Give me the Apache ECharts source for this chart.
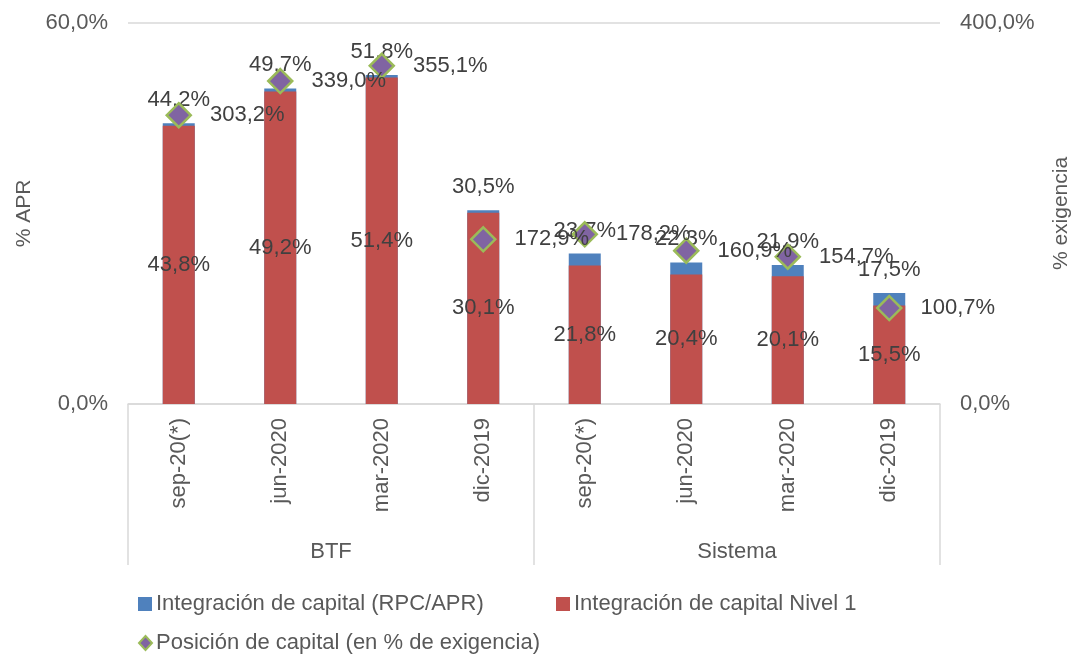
<!DOCTYPE html>
<html>
<head>
<meta charset="utf-8">
<script src="https://cdn.jsdelivr.net/npm/echarts@6/dist/echarts.min.js"></script>
<style>
  html, body { margin: 0; padding: 0; background: #fff; }
  #chart { width: 1075px; height: 654px; }
</style>
</head>
<body>
<div id="chart"></div>
<script>
  // datos
  var categories = ['sep-20(*)', 'jun-2020', 'mar-2020', 'dic-2019', 'sep-20(*)', 'jun-2020', 'mar-2020', 'dic-2019'];
  var groups = ['BTF', 'Sistema'];
  var rpcApr = [44.2, 49.7, 51.8, 30.5, 23.7, 22.3, 21.9, 17.5];
  var nivel1 = [43.8, 49.2, 51.4, 30.1, 21.8, 20.4, 20.1, 15.5];
  var posicion = [303.2, 339.0, 355.1, 172.9, 178.2, 160.9, 154.7, 100.7];

  var FONT = 'Liberation Sans, Arial, sans-serif';
  var GRID_COLOR = '#d9d9d9';

  function pct(v) {
    return v.toFixed(1).replace('.', ',') + '%';
  }

  var chart = echarts.init(document.getElementById('chart'));

  chart.setOption({
    animation: false,
    textStyle: { fontFamily: FONT },
    grid: { left: 128, right: 135, top: 23, bottom: 250, outerBoundsMode: 'none', containLabel: false },
    legend: [{
      data: ['Integración de capital (RPC/APR)'],
      left: 133, top: 588,
      icon: 'rect', itemWidth: 14, itemHeight: 14, itemGap: 4,
      textStyle: { fontSize: 22, color: '#595959', fontFamily: FONT, padding: [0, 0, 0, -1] }
    }, {
      data: ['Integración de capital Nivel 1'],
      left: 551, top: 588,
      icon: 'rect', itemWidth: 14, itemHeight: 14,
      textStyle: { fontSize: 22, color: '#595959', fontFamily: FONT, padding: [0, 0, 0, -1] }
    }, {
      data: ['Posición de capital (en % de exigencia)'],
      left: 133, top: 627,
      itemWidth: 13, itemHeight: 14,
      textStyle: { fontSize: 22, color: '#595959', fontFamily: FONT, padding: [0, 0, 0, -1] }
    }],
    xAxis: [{
      type: 'category',
      data: categories,
      axisLine: { lineStyle: { color: GRID_COLOR, width: 1.5 } },
      axisTick: { show: false },
      axisLabel: {
        rotate: 90, margin: 14, interval: 0,
        fontSize: 22, color: '#595959', fontFamily: FONT
      }
    }, {
      type: 'category',
      data: groups,
      position: 'bottom',
      axisLine: { show: false },
      axisTick: { show: true, interval: 0, length: 161, lineStyle: { color: GRID_COLOR, width: 1.5 } },
      axisLabel: { margin: 137, fontSize: 22, color: '#595959', fontFamily: FONT }
    }],
    yAxis: [{
      type: 'value',
      min: 0, max: 60, interval: 60,
      name: '% APR',
      nameLocation: 'middle',
      nameRotate: 90,
      nameGap: 86,
      nameTextStyle: { fontSize: 21, color: '#595959', fontFamily: FONT },
      axisLine: { show: false },
      axisTick: { show: false },
      splitLine: { lineStyle: { color: GRID_COLOR, width: 1.5 } },
      axisLabel: { formatter: pct, margin: 20, fontSize: 22, color: '#595959', fontFamily: FONT }
    }, {
      type: 'value',
      min: 0, max: 400, interval: 400,
      name: '% exigencia',
      nameLocation: 'middle',
      nameRotate: 90,
      nameGap: 111,
      nameTextStyle: { fontSize: 21, color: '#595959', fontFamily: FONT },
      axisLine: { show: false },
      axisTick: { show: false },
      splitLine: { show: false },
      axisLabel: { formatter: pct, margin: 20, fontSize: 22, color: '#595959', fontFamily: FONT }
    }],
    series: [{
      name: 'Integración de capital (RPC/APR)',
      type: 'bar',
      data: rpcApr,
      barWidth: 32,
      itemStyle: { color: '#4F81BD' },
      label: {
        show: true, position: 'top', distance: 12,
        formatter: function (p) { return pct(p.value); },
        fontSize: 22, color: '#404040', fontFamily: FONT
      }
    }, {
      name: 'Integración de capital Nivel 1',
      type: 'bar',
      data: nivel1,
      barWidth: 32,
      barGap: '-100%',
      itemStyle: { color: '#C0504D' },
      label: {
        show: true, position: 'inside',
        formatter: function (p) { return pct(p.value); },
        fontSize: 22, color: '#404040', fontFamily: FONT
      }
    }, {
      name: 'Posición de capital (en % de exigencia)',
      type: 'scatter',
      yAxisIndex: 0,
      data: posicion.map(function (v) { return v * 60 / 400; }),
      symbol: 'diamond',
      symbolSize: [24, 24],
      itemStyle: { color: '#8064A2', borderColor: '#9BBB59', borderWidth: 2.5, opacity: 1 },
      label: {
        show: true, position: 'right', distance: 18,
        formatter: function (p) { return pct(posicion[p.dataIndex]); },
        fontSize: 22, color: '#404040', fontFamily: FONT
      },
      z: 5
    }]
  });
</script>
</body>
</html>
